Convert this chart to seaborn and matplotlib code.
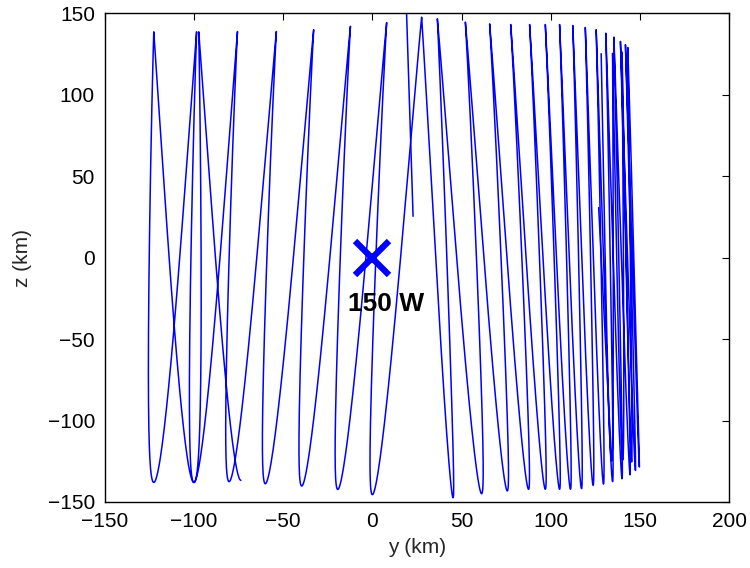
import numpy as np
import pandas as pd
import matplotlib
matplotlib.use("Agg")
import matplotlib.pyplot as plt
import seaborn as sns

# Turning points of the relative-motion track (y, z in km)
track_y = [-73.7, -97.3, -100.0, -122.5, -122.5, -98.5, -100.0, -75.6, -80.3, -53.8,
           -60.0, -32.9, -39.6, -12.3, -19.4, 8.0, 0.0, 27.6, 45.2, 36.4,
           61.2, 52.1, 75.6, 65.7, 87.5, 77.5, 96.9, 88.1, 104.9, 96.9,
           111.0, 104.9, 117.2, 112.3, 123.7, 119.3, 129.5, 125.4, 134.6, 130.8,
           139.9, 135.3, 144.4, 139.0, 147.4, 141.8, 149.6, 143.1, 145.3, 139.9,
           140.3, 134.6, 134.0, 128.2]
track_z = [-136.7, 138.6, -138.0, 138.6, -138.0, 138.6, -138.0, 138.8, -137.5, 138.8,
           -138.8, 139.9, -140.2, 142.0, -142.3, 144.3, -145.5, 147.6, -147.4, 146.6,
           -144.9, 144.6, -143.2, 143.5, -142.2, 143.1, -142.2, 143.1, -142.2, 143.1,
           -142.2, 143.1, -141.8, 142.5, -139.8, 141.3, -139.0, 139.9, -137.5, 137.8,
           -135.7, 135.4, -133.3, 132.7, -130.6, 130.7, -128.5, 129.0, -125.4, 126.2,
           -124.2, 125.4, -124.6, 125.2]

# short separate pieces
jump_y = [22.8, 19.1]
jump_z = [25.4, 152.0]
tail_y = [126.8, 134.0]
tail_z = [30.7, -124.6]

marker_y, marker_z = [0.0], [0.0]
label_text = "150 W"


def densify(ty, tz, n=80, k=0.85):
    ty = np.asarray(ty, float)
    tz = np.asarray(tz, float)
    m = np.zeros_like(ty)
    for i in range(len(ty)):
        if tz[i] < 0:
            prev = ty[i - 1] if i > 0 else ty[i]
            nxt = ty[i + 1] if i < len(ty) - 1 else ty[i]
            m[i] = k * (nxt - prev)
    s = np.linspace(0, 1, n)
    h00 = 2 * s**3 - 3 * s**2 + 1
    h10 = s**3 - 2 * s**2 + s
    h01 = -2 * s**3 + 3 * s**2
    h11 = s**3 - s**2
    ys, zs = [], []
    for i in range(len(ty) - 1):
        y = h00 * ty[i] + h10 * m[i] + h01 * ty[i + 1] + h11 * m[i + 1]
        z = tz[i] + (tz[i + 1] - tz[i]) * (1 - np.cos(np.pi * s)) / 2
        if i > 0:
            y, z = y[1:], z[1:]
        ys.append(y)
        zs.append(z)
    return np.concatenate(ys), np.concatenate(zs)


parts = []
for sid, (ty, tz) in enumerate([(track_y, track_z), (jump_y, jump_z), (tail_y, tail_z)]):
    if len(ty) > 2:
        y, z = densify(ty, tz)
    else:
        y, z = np.array(ty, float), np.array(tz, float)
    parts.append(pd.DataFrame({"y": y, "z": z, "seg": sid}))
df = pd.concat(parts, ignore_index=True)

sns.set_theme(style="white")
plt.rcParams["font.family"] = ["Liberation Sans", "DejaVu Sans"]
plt.rcParams["axes.unicode_minus"] = True

fig = plt.figure(figsize=(7.5, 5.68), dpi=100)
ax = fig.add_axes([0.1396, 0.1162, 0.8328, 0.8604])

sns.lineplot(data=df, x="y", y="z", units="seg", estimator=None, sort=False,
             color=(0, 0, 1), linewidth=1.1, ax=ax, legend=False)

ax.plot(marker_y, marker_z, linestyle="none", marker="x", color=(0, 0, 1),
        markersize=24, markeredgewidth=4.5, zorder=5)
ax.text(7.5, -28.5, label_text, fontsize=19, fontweight="bold", color="black",
        ha="center", va="center", zorder=6)

ax.set_xlim(-150, 200)
ax.set_ylim(-150, 150)
ax.set_xticks(np.arange(-150, 201, 50))
ax.set_yticks(np.arange(-150, 151, 50))
ax.set_xlabel("y (km)", fontsize=15, labelpad=5)
ax.set_ylabel("z (km)", fontsize=15, labelpad=11)
ax.tick_params(axis="both", which="both", direction="in", length=5, width=0.8,
               top=True, right=True, labelsize=15, colors="black", pad=7)
for sp in ax.spines.values():
    sp.set_visible(True)
    sp.set_color("black")
    sp.set_linewidth(1.0)

fig.savefig("out.png", dpi=100, facecolor="white")
